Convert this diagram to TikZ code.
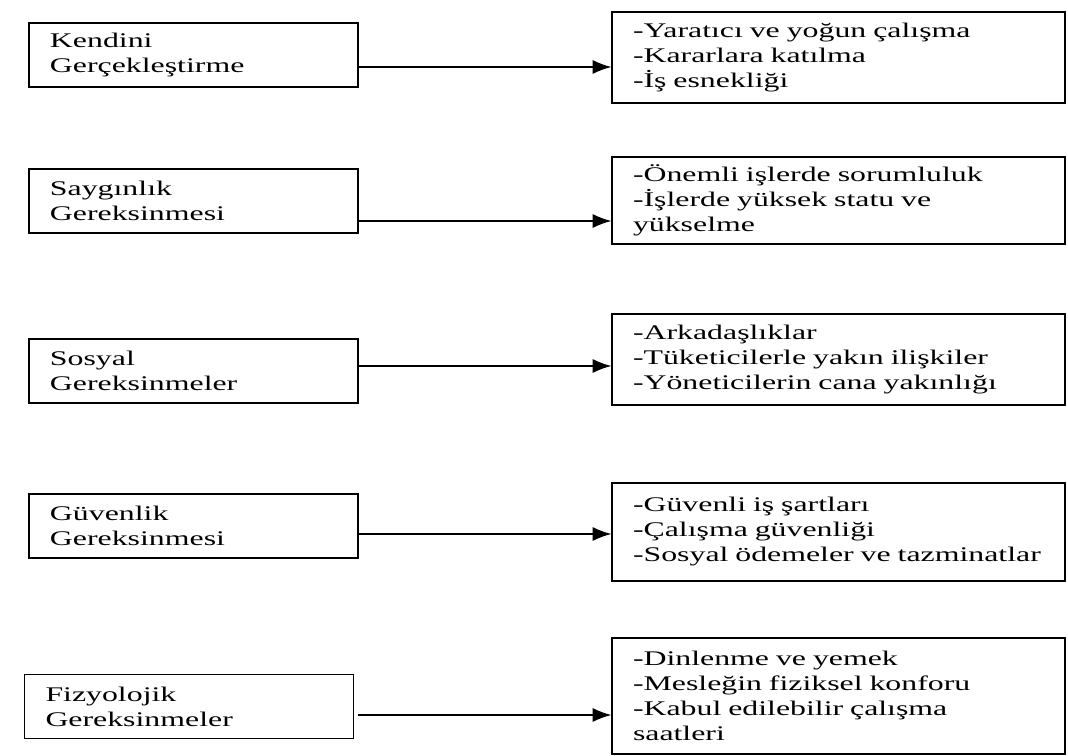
\documentclass[tikz,border=0pt]{standalone}
\usepackage{fontspec}
\setmainfont[FakeStretch=1.53]{Liberation Serif}
\usepackage{tikz}
\usetikzlibrary{arrows.meta}

\begin{document}
\begin{tikzpicture}[x=0.75pt, y=-0.75pt]
\tikzset{ >={Latex[length=14pt, width=10.5pt]},
  every node/.style={font=\fontsize{15.6}{18.75}\selectfont},
  lbox/.style={draw, line width=1.1pt, align=left, inner xsep=15.75pt, inner ysep=0pt,
    text width=215.25pt, minimum height=48pt},
  rbox/.style={draw, line width=1.1pt, align=left, inner xsep=15.75pt, inner ysep=0pt,
    text width=308.25pt},
  link/.style={->, line width=0.8pt},
}

\useasboundingbox (0,0) rectangle (1068,756);

%\draw [lightgray, dashed](0,0) grid [step=50] (1068,756);

\node [lbox] (K) at (193.5, 55.0) {Kendini\\Gerçekleştirme};
\node [lbox] (S) at (193.5,201.0) {Saygınlık\\Gereksinmesi};
\node [lbox] (O) at (193.5,371.0) {Sosyal\\Gereksinmeler};
\node [lbox] (G) at (193.5,526.0) {Güvenlik\\Gereksinmesi};
\node [lbox] (F) at (189.0,706.5) {Fizyolojik\\Gereksinmeler};

\node [rbox, minimum height=68.25pt] (k) at (838.5, 57.5)
  {-Yaratıcı ve yoğun çalışma\\-Kararlara katılma\\-İş esnekliği};
\node [rbox, minimum height=65.25pt] (s) at (838.5,200.5)
  {-Önemli işlerde sorumluluk\\-İşlerde yüksek statu ve\\yükselme};
\node [rbox, minimum height=68.25pt] (o) at (838.5,359.5)
  {-Arkadaşlıklar\\-Tüketicilerle yakın ilişkiler\\-Yöneticilerin cana yakınlığı};
\node [rbox, minimum height=73.5pt] (g) at (838.5,532.0)
  {-Güvenli iş şartları\\-Çalışma güvenliği\\-Sosyal ödemeler ve tazminatlar};
\node [rbox, minimum height=87pt] (f) at (838.5,696.0)
  {-Dinlenme ve yemek\\-Mesleğin fiziksel konforu\\-Kabul edilebilir çalışma\\saatleri};

\draw [link] (K.east |- 0, 67) -- (k.west |- 0, 67);
\draw [link] (S.east |- 0,221) -- (s.west |- 0,221);
\draw [link] (O.east |- 0,366) -- (o.west |- 0,366);
\draw [link] (G.east |- 0,534) -- (g.west |- 0,534);
\draw [link] ([xshift=3pt]F.east |- 0,715) -- (f.west |- 0,715);

\end{tikzpicture}
\end{document}
